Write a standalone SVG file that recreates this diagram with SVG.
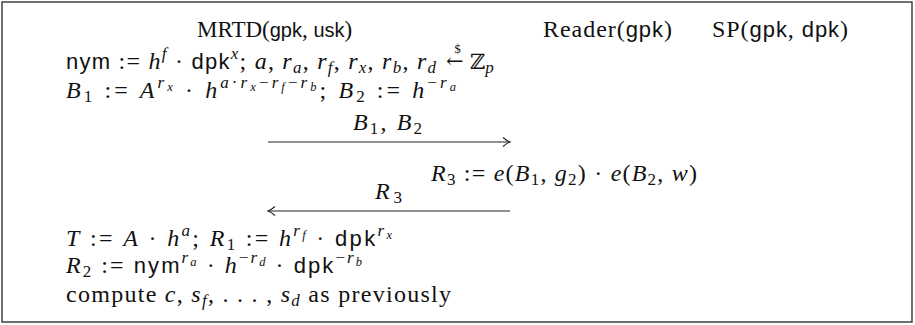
<svg xmlns="http://www.w3.org/2000/svg" width="915" height="325" viewBox="0 0 915 325">
<style>
text{font-family:"Liberation Serif",serif;font-size:24px;fill:#111}
.h{font-size:23px}
.sf{font-family:"Liberation Sans",sans-serif;font-size:22px}
.hs{font-family:"Liberation Sans",sans-serif;font-size:20px}
.i{font-style:italic}
.p{font-size:17px}
.pp{font-size:12.5px}
.bb{font-family:"DejaVu Serif",serif;font-size:21px}
.arr{font-family:"DejaVu Serif",serif;font-size:21px}
.frame{fill:#fff;stroke:#333;stroke-width:1.4}
.msg{stroke:#222;stroke-width:1.2;fill:none}
</style>
<defs>
<marker id="ah" markerUnits="userSpaceOnUse" markerWidth="12" markerHeight="12" refX="10" refY="6" orient="auto-start-reverse">
<path d="M3 1.5 Q7 5 10 6 Q7 7 3 10.5" fill="none" stroke="#222" stroke-width="1.1"/>
</marker>
</defs>
<rect class="frame" x="2" y="2" width="910" height="320"/>
<g id="mrtd-header"><text class="h" x="197" y="37">MRTD(<tspan class="hs">gpk</tspan>, <tspan class="hs">usk</tspan>)</text></g>
<g id="reader-header"><text x="543" y="37" textLength="129" lengthAdjust="spacing">Reader(<tspan class="sf">gpk</tspan>)</text></g>
<g id="sp-header"><text x="712" y="37" textLength="136" lengthAdjust="spacing">SP(<tspan class="sf">gpk</tspan>, <tspan class="sf">dpk</tspan>)</text></g>
<g id="mrtd-setup">
<text x="66" y="69" textLength="370" lengthAdjust="spacing"><tspan class="sf">nym</tspan> := <tspan class="i">h</tspan><tspan class="p i" dy="-10">f</tspan><tspan dy="10"> · </tspan><tspan class="sf">dpk</tspan><tspan class="p i" dy="-10">x</tspan><tspan dy="10">; </tspan><tspan class="i">a</tspan>, <tspan class="i">r</tspan><tspan class="p i" dy="4">a</tspan><tspan dy="-4">, </tspan><tspan class="i">r</tspan><tspan class="p i" dy="4">f</tspan><tspan dy="-4">, </tspan><tspan class="i">r</tspan><tspan class="p i" dy="4">x</tspan><tspan dy="-4">, </tspan><tspan class="i">r</tspan><tspan class="p i" dy="4">b</tspan><tspan dy="-4">, </tspan><tspan class="i">r</tspan><tspan class="p i" dy="4">d</tspan></text>
<text x="446" y="68"><tspan class="arr">←</tspan><tspan class="pp" dx="-9" dy="-15">$</tspan></text>
<text x="470" y="69"><tspan class="bb">ℤ</tspan><tspan class="p i" dy="4">p</tspan></text>
<text x="66" y="98" textLength="390" lengthAdjust="spacing"><tspan class="i">B</tspan><tspan class="p" dy="4">1</tspan><tspan dy="-4"> := </tspan><tspan class="i">A</tspan><tspan class="p i" dy="-10">r</tspan><tspan class="pp i" dy="3">x</tspan><tspan dy="7"> · </tspan><tspan class="i">h</tspan><tspan class="p i" dy="-10">a</tspan><tspan class="p">·</tspan><tspan class="p i">r</tspan><tspan class="pp i" dy="3">x</tspan><tspan class="p" dy="-3">−</tspan><tspan class="p i">r</tspan><tspan class="pp i" dy="3">f</tspan><tspan class="p" dy="-3">−</tspan><tspan class="p i">r</tspan><tspan class="pp i" dy="3">b</tspan><tspan dy="7">;  </tspan><tspan class="i">B</tspan><tspan class="p" dy="4">2</tspan><tspan dy="-4"> := </tspan><tspan class="i">h</tspan><tspan class="p" dy="-10">−</tspan><tspan class="p i">r</tspan><tspan class="pp i" dy="3">a</tspan></text>
</g>
<g id="reader-compute">
<text x="431" y="181" textLength="266" lengthAdjust="spacing"><tspan class="i">R</tspan><tspan class="p" dy="4">3</tspan><tspan dy="-4"> := </tspan><tspan class="i">e</tspan>(<tspan class="i">B</tspan><tspan class="p" dy="4">1</tspan><tspan dy="-4">, </tspan><tspan class="i">g</tspan><tspan class="p" dy="4">2</tspan><tspan dy="-4">) · </tspan><tspan class="i">e</tspan>(<tspan class="i">B</tspan><tspan class="p" dy="4">2</tspan><tspan dy="-4">, </tspan><tspan class="i">w</tspan>)</text>
</g>
<g id="mrtd-response">
<text x="66" y="246" textLength="326" lengthAdjust="spacing"><tspan class="i">T</tspan> := <tspan class="i">A</tspan> · <tspan class="i">h</tspan><tspan class="p i" dy="-10">a</tspan><tspan dy="10">;  </tspan><tspan class="i">R</tspan><tspan class="p" dy="4">1</tspan><tspan dy="-4"> := </tspan><tspan class="i">h</tspan><tspan class="p i" dy="-10">r</tspan><tspan class="pp i" dy="3">f</tspan><tspan dy="7"> · </tspan><tspan class="sf">dpk</tspan><tspan class="p i" dy="-10">r</tspan><tspan class="pp i" dy="3">x</tspan></text>
<text x="66" y="273" textLength="296" lengthAdjust="spacing"><tspan class="i">R</tspan><tspan class="p" dy="4">2</tspan><tspan dy="-4"> := </tspan><tspan class="sf">nym</tspan><tspan class="p i" dy="-10">r</tspan><tspan class="pp i" dy="3">a</tspan><tspan dy="7"> · </tspan><tspan class="i">h</tspan><tspan class="p" dy="-10">−</tspan><tspan class="p i">r</tspan><tspan class="pp i" dy="3">d</tspan><tspan dy="7"> · </tspan><tspan class="sf">dpk</tspan><tspan class="p" dy="-10">−</tspan><tspan class="p i">r</tspan><tspan class="pp i" dy="3">b</tspan></text>
<text x="66" y="302" textLength="385" lengthAdjust="spacing">compute <tspan class="i">c</tspan>, <tspan class="i">s</tspan><tspan class="p i" dy="4">f</tspan><tspan dy="-4">, . . . , </tspan><tspan class="i">s</tspan><tspan class="p i" dy="4">d</tspan><tspan dy="-4"> as previously</tspan></text>
</g>
<g id="connectors">
<line class="msg" x1="268" y1="142" x2="510" y2="142" marker-end="url(#ah)"/>
<text x="353" y="130" textLength="69" lengthAdjust="spacing"><tspan class="i">B</tspan><tspan class="p" dy="4">1</tspan><tspan dy="-4">, </tspan><tspan class="i">B</tspan><tspan class="p" dy="4">2</tspan></text>
<line class="msg" x1="510" y1="211" x2="268" y2="211" marker-end="url(#ah)"/>
<text x="375" y="199" textLength="27" lengthAdjust="spacing"><tspan class="i">R</tspan><tspan class="p" dy="4">3</tspan></text>
</g>
</svg>
